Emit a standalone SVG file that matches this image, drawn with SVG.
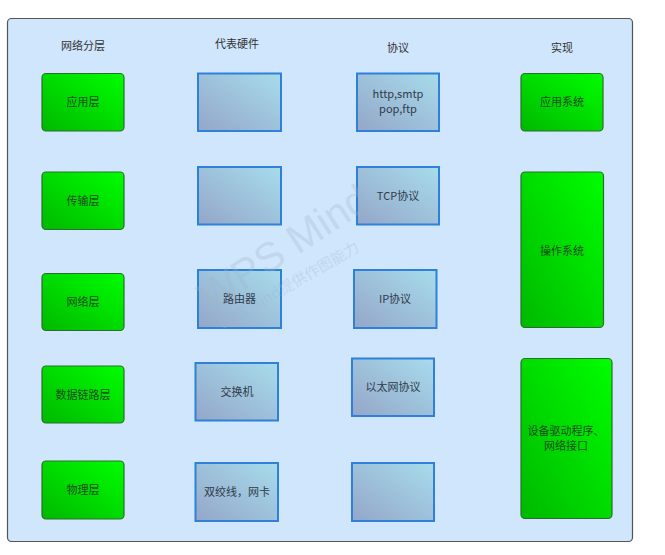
<svg xmlns="http://www.w3.org/2000/svg" width="665" height="555" viewBox="0 0 665 555">
<defs>
<linearGradient id="g" x1="0" y1="1" x2="1" y2="0">
<stop offset="0" stop-color="#00b800"/>
<stop offset="1" stop-color="#00ff00"/>
</linearGradient>
<linearGradient id="b" x1="0" y1="1" x2="1" y2="0">
<stop offset="0" stop-color="#94a6c8"/>
<stop offset="1" stop-color="#a7dcec"/>
</linearGradient>
<style>
.t{font-family:"Noto Sans CJK SC","Liberation Sans",sans-serif;font-size:11px;text-anchor:middle;fill:#333}
.gn rect{fill:url(#g);stroke:#2b6e2b;stroke-width:1.2}
.gn text{fill:#1e4d1e}
.bl rect{fill:url(#b);stroke:#2f80d8;stroke-width:2}
.bl text{fill:#2f3b4a}
.wm{fill:#9fb4c8;opacity:0.28}
</style>
</defs>
<rect width="665" height="555" fill="#ffffff"/>
<rect id="frame" x="7.5" y="18.5" width="625" height="523" rx="4" fill="#cfe6fc" stroke="#555" stroke-width="1.2"/>
<g id="headers">
<text class="t" x="83" y="50">网络分层</text>
<text class="t" x="237" y="48">代表硬件</text>
<text class="t" x="398" y="52">协议</text>
<text class="t" x="562" y="52">实现</text>
</g>
<g id="connectors"></g>
<g id="n-app" class="gn"><rect x="42" y="73.5" width="82" height="57.5" rx="4"/><text class="t" x="83" y="106">应用层</text></g>
<g id="n-trans" class="gn"><rect x="42" y="172" width="82" height="57.5" rx="4"/><text class="t" x="83" y="205">传输层</text></g>
<g id="n-net" class="gn"><rect x="42" y="273.5" width="82" height="57" rx="4"/><text class="t" x="83" y="306">网络层</text></g>
<g id="n-link" class="gn"><rect x="42" y="366" width="82" height="57" rx="4"/><text class="t" x="83" y="399">数据链路层</text></g>
<g id="n-phy" class="gn"><rect x="42" y="461" width="82" height="58" rx="4"/><text class="t" x="83" y="494">物理层</text></g>

<g id="h-1" class="bl"><rect x="198" y="73.5" width="83" height="57.5"/></g>
<g id="h-2" class="bl"><rect x="198" y="167" width="83" height="57.5"/></g>
<g id="h-router" class="bl"><rect x="198" y="270" width="83" height="58"/><text class="t" x="239.5" y="303">路由器</text></g>
<g id="h-switch" class="bl"><rect x="195.5" y="363" width="82.5" height="57.5"/><text class="t" x="237" y="396">交换机</text></g>
<g id="h-cable" class="bl"><rect x="195.5" y="463" width="82.5" height="58"/><text class="t" x="237" y="496">双绞线，网卡</text></g>

<g id="p-app" class="bl"><rect x="357" y="73.5" width="82" height="57.5"/><text class="t" x="398" y="98">http,smtp</text><text class="t" x="398" y="113">pop,ftp</text></g>
<g id="p-tcp" class="bl"><rect x="357" y="167" width="82" height="57.5"/><text class="t" x="398" y="200">TCP协议</text></g>
<g id="p-ip" class="bl"><rect x="354" y="270" width="82.5" height="58"/><text class="t" x="395" y="303">IP协议</text></g>
<g id="p-eth" class="bl"><rect x="352" y="358.5" width="82" height="57.5"/><text class="t" x="393" y="391">以太网协议</text></g>
<g id="p-phy" class="bl"><rect x="352" y="463" width="82" height="58"/></g>

<g id="i-app" class="gn"><rect x="521" y="73.5" width="82" height="57.5" rx="4"/><text class="t" x="562" y="106">应用系统</text></g>
<g id="i-os" class="gn"><rect x="521" y="172" width="82.5" height="155.5" rx="4"/><text class="t" x="562" y="255">操作系统</text></g>
<g id="i-drv" class="gn"><rect x="521" y="358.5" width="91" height="160" rx="4"/><text class="t" x="566" y="435">设备驱动程序、</text><text class="t" x="566" y="450">网络接口</text></g>

<g id="watermark" class="wm">
<text x="0" y="0" font-size="41" font-family="Liberation Sans,sans-serif" transform="translate(210,312) rotate(-33)">WPS Mind</text>
<text x="0" y="0" font-size="15" font-family="Noto Sans CJK SC,sans-serif" transform="translate(222,330) rotate(-30)">WPS Mind提供作图能力</text>
</g>
</svg>
